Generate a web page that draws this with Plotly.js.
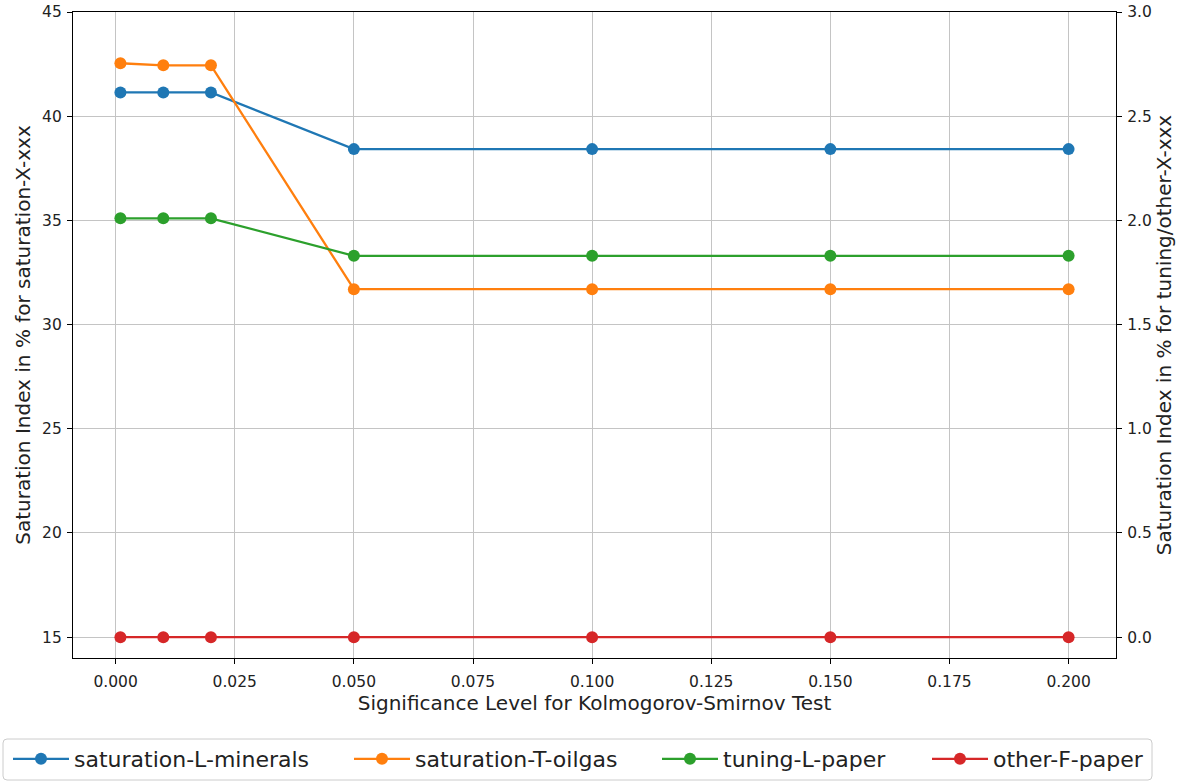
<!DOCTYPE html>
<html>
<head>
<meta charset="utf-8">
<script src="https://cdn.plot.ly/plotly-3.0.1.min.js"></script>
<style>html,body{margin:0;padding:0;background:#fff;}#chart{width:1182px;height:781px;}</style>
</head>
<body>
<div id="chart"></div>
<script>
const significance = [0.001, 0.01, 0.02, 0.05, 0.1, 0.15, 0.2];
const saturationLMinerals = [41.14, 41.14, 41.14, 38.42, 38.42, 38.42, 38.42];
const saturationTOilgas = [42.54, 42.44, 42.44, 31.70, 31.70, 31.70, 31.70];
const tuningLPaper = [2.01, 2.01, 2.01, 1.83, 1.83, 1.83, 1.83];
const otherFPaper = [0, 0, 0, 0, 0, 0, 0];
const seriesNames = ['saturation-L-minerals', 'saturation-T-oilgas', 'tuning-L-paper', 'other-F-paper'];
const xTickVals = [0, 0.025, 0.05, 0.075, 0.1, 0.125, 0.15, 0.175, 0.2];
const xTickText = ['0.000', '0.025', '0.050', '0.075', '0.100', '0.125', '0.150', '0.175', '0.200'];
const leftTicks = [15, 20, 25, 30, 35, 40, 45];
const rightTickVals = [0, 0.5, 1, 1.5, 2, 2.5, 3];
const rightTickText = ['0.0', '0.5', '1.0', '1.5', '2.0', '2.5', '3.0'];

const colors = ['#1f77b4', '#ff7f0e', '#2ca02c', '#d62728'];
const font = 'DejaVu Sans, sans-serif';
const W = 1182, H = 781;
const L = 73, R = 1116, T = 12, B = 658;
const legendKeys = ['legend', 'legend2', 'legend3', 'legend4'];
const legendTextX = [74, 415, 723, 993];
const ITEMW = 56;

function tr(y, i, axis) {
  return {
    x: significance, y: y, name: seriesNames[i], yaxis: axis,
    type: 'scatter', mode: 'lines+markers', legend: legendKeys[i],
    line: {color: colors[i], width: 2.3},
    marker: {color: colors[i], size: 12}
  };
}
const data = [
  tr(saturationLMinerals, 0, 'y'),
  tr(saturationTOilgas, 1, 'y'),
  tr(tuningLPaper, 2, 'y2'),
  tr(otherFPaper, 3, 'y2')
];

function legendAt(i) {
  return {
    xref: 'container', yref: 'container',
    x: (legendTextX[i] - ITEMW - 10) / W, xanchor: 'left',
    y: 1 - 759 / H, yanchor: 'middle',
    orientation: 'h',
    font: {size: 22, color: '#222', family: font},
    bgcolor: 'rgba(0,0,0,0)', borderwidth: 0,
    itemwidth: ITEMW
  };
}

// rounded legend frame in paper coordinates
const pw = R - L, ph = B - T;
function px(x) { return (x - L) / pw; }
function py(y) { return (B - y) / ph; }
const fx0 = 3, fx1 = 1152, fy0 = 739, fy1 = 780, rad = 4;
const framePath = [
  'M', px(fx0 + rad), py(fy0),
  'L', px(fx1 - rad), py(fy0),
  'Q', px(fx1), py(fy0), px(fx1), py(fy0 + rad),
  'L', px(fx1), py(fy1 - rad),
  'Q', px(fx1), py(fy1), px(fx1 - rad), py(fy1),
  'L', px(fx0 + rad), py(fy1),
  'Q', px(fx0), py(fy1), px(fx0), py(fy1 - rad),
  'L', px(fx0), py(fy0 + rad),
  'Q', px(fx0), py(fy0), px(fx0 + rad), py(fy0), 'Z'
].join(' ');

const layout = {
  width: W, height: H,
  margin: {l: L, r: W - R, t: T, b: H - B},
  paper_bgcolor: '#fff', plot_bgcolor: '#fff',
  font: {family: font, color: '#222', size: 15.5},
  showlegend: true,
  legend: legendAt(0), legend2: legendAt(1), legend3: legendAt(2), legend4: legendAt(3),
  shapes: [{
    type: 'path', xref: 'paper', yref: 'paper', path: framePath,
    line: {color: '#cccccc', width: 1}, fillcolor: 'rgba(0,0,0,0)', layer: 'above'
  }],
  xaxis: {
    range: [-0.00895, 0.20995], automargin: false,
    tickvals: xTickVals, ticktext: xTickText,
    showgrid: true, gridcolor: '#c4c4c4', gridwidth: 1.2,
    zeroline: false,
    showline: true, linecolor: '#000', linewidth: 1.3, mirror: true,
    ticks: 'outside', ticklen: 5, tickwidth: 1.2, tickcolor: '#000',
    ticklabelstandoff: 4,
    tickfont: {size: 15.5},
    title: {text: 'Significance Level for Kolmogorov-Smirnov Test', font: {size: 20}, standoff: 6}
  },
  yaxis: {
    range: [14, 45], automargin: false,
    tickvals: leftTicks,
    showgrid: true, gridcolor: '#c4c4c4', gridwidth: 1.2,
    zeroline: false,
    showline: true, linecolor: '#000', linewidth: 1.3,
    ticks: 'outside', ticklen: 5, tickwidth: 1.2, tickcolor: '#000',
    ticklabelstandoff: 2,
    tickfont: {size: 15.5},
    title: {text: 'Saturation Index in % for saturation-X-xxx', font: {size: 20}, standoff: 6}
  },
  yaxis2: {
    range: [-0.1, 3.0], automargin: false,
    overlaying: 'y', side: 'right',
    tickvals: rightTickVals, ticktext: rightTickText,
    showgrid: false, zeroline: false,
    showline: true, linecolor: '#000', linewidth: 1.3,
    ticks: 'outside', ticklen: 5, tickwidth: 1.2, tickcolor: '#000',
    ticklabelstandoff: 2,
    tickfont: {size: 15.5},
    title: {text: 'Saturation Index in % for tuning/other-X-xxx', font: {size: 20}, standoff: 6}
  }
};

Plotly.newPlot('chart', data, layout, {displayModeBar: false, responsive: false});
</script>
</body>
</html>
